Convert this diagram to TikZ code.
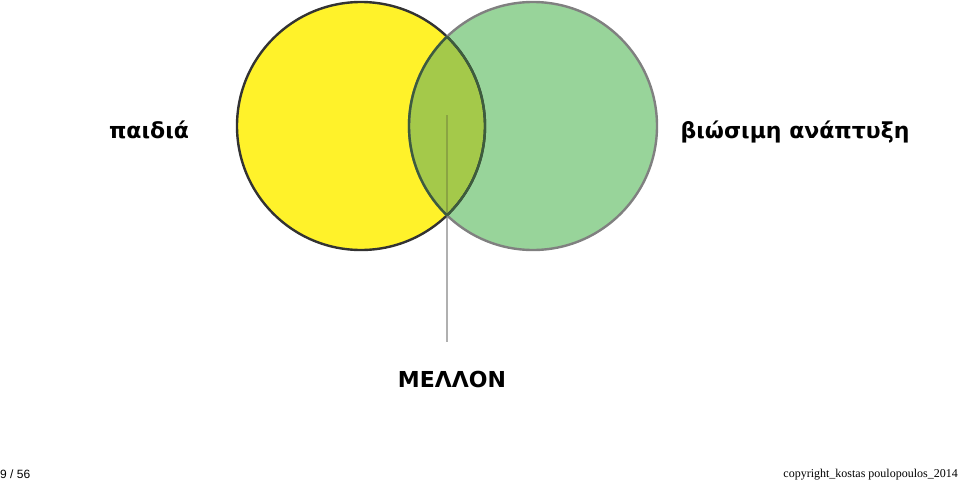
\documentclass[tikz,border=0pt]{standalone}
\usepackage{fontspec}
\setmainfont{Liberation Serif}
\newfontfamily\greekbold{DejaVu Sans}
\newfontfamily\footsans{Liberation Sans}
\definecolor{yel}{HTML}{FFF22A}
\definecolor{grn}{HTML}{98D49A}
\definecolor{ovl}{HTML}{A4C94A}
\definecolor{ystroke}{HTML}{333333}
\definecolor{gstroke}{HTML}{808080}
\definecolor{dgstroke}{HTML}{3D5C3D}
\definecolor{pointer}{HTML}{B0B0B0}
\definecolor{pointerin}{HTML}{8AA442}
\tikzset{
  label text/.style={font=\greekbold\bfseries\fontsize{22}{26}\selectfont, inner sep=0pt, anchor=base},
  foot/.style={inner sep=0pt, anchor=base, font=\fontsize{12}{14}\selectfont},
  ring/.style={line width=2.4pt},
}
\begin{document}
\begin{tikzpicture}[x=1pt,y=-1pt]
\useasboundingbox (0,0) rectangle (960,482);
% fills
\fill[yel] (361,126) circle (124);
\fill[grn] (533,126) circle (124);
\begin{scope}
  \clip (361,126) circle (124);
  \fill[ovl] (533,126) circle (124);
\end{scope}
% pointer line
\coordinate (ptop) at (447,115);
\coordinate (pbot) at (447,342);
\draw[pointer, line width=1.3pt] (ptop) -- (pbot);
\begin{scope}
  \clip (361,126) circle (124);
  \clip (533,126) circle (124);
  \draw[pointerin, line width=1.3pt] (ptop) -- (pbot);
\end{scope}
% strokes
\draw[ring, ystroke] (361,126) circle (124);
\draw[ring, gstroke] (533,126) circle (124);
\begin{scope}
  \clip (361,126) circle (124);
  \draw[ring, dgstroke] (533,126) circle (124);
\end{scope}
\begin{scope}
  \clip (533,126) circle (124);
  \draw[ring, dgstroke] (361,126) circle (124);
\end{scope}
% texts
\node[label text] (paidia) at (149,138) {παιδιά};
\node[label text] (viosimi) at (795,138) {βιώσιμη ανάπτυξη};
\node[label text] (mellon) at (452,387) {ΜΕΛΛΟΝ};
\node[foot, anchor=base west, font=\footsans\fontsize{12}{14}\selectfont] (page) at (0,478) {9 / 56};
\node[foot, anchor=base east] (copy) at (958,477) {copyright\_kostas poulopoulos\_2014};
\end{tikzpicture}
\end{document}
